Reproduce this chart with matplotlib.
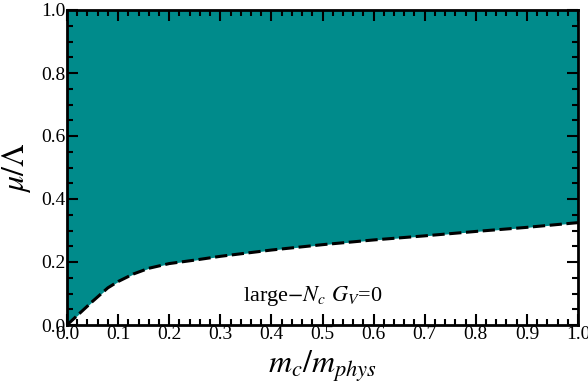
import numpy as np
import matplotlib.pyplot as plt
from matplotlib.ticker import MultipleLocator

# boundary of the shaded region
mc_ratio = [0.0, 0.02, 0.05, 0.08, 0.10, 0.13, 0.16, 0.20, 0.25, 0.30, 0.40, 0.50,
            0.60, 0.70, 0.80, 0.90, 1.00]
mu_crit = [0.0, 0.03, 0.075, 0.118, 0.138, 0.162, 0.180, 0.195, 0.206, 0.218, 0.238, 0.255,
           0.270, 0.283, 0.297, 0.310, 0.325]

plt.rcParams['font.family'] = ['Liberation Serif', 'DejaVu Serif']
plt.rcParams['mathtext.fontset'] = 'stix'

fig = plt.figure(figsize=(5.88, 3.87), dpi=100)
ax = fig.add_axes([67/588, 1 - 325/387, 511/588, 315/387])

ax.fill_between(mc_ratio, mu_crit, 1.0, color='#008b8b', linewidth=0)
ax.plot(mc_ratio, mu_crit, color='black', linestyle='--', linewidth=2.2, dashes=(4, 1.5))

ax.set_xlim(0, 1)
ax.set_ylim(0, 1)
ax.xaxis.set_major_locator(MultipleLocator(0.1))
ax.xaxis.set_minor_locator(MultipleLocator(0.02))
ax.yaxis.set_major_locator(MultipleLocator(0.2))
ax.yaxis.set_minor_locator(MultipleLocator(0.05))
ax.tick_params(which='both', direction='in', top=True, right=True, labelsize=14, width=1.5, pad=1)
ax.tick_params(which='major', length=8)
ax.tick_params(which='minor', length=4)
ax.xaxis.set_major_formatter(plt.FormatStrFormatter('%.1f'))
ax.yaxis.set_major_formatter(plt.FormatStrFormatter('%.1f'))
for s in ax.spines.values():
    s.set_linewidth(2)

ax.set_xlabel(r'$m_c/m_{phys}$', fontsize=23, labelpad=4)
ax.set_ylabel(r'$\mu/\Lambda$', fontsize=23, labelpad=6)
ax.text(0.48, 0.092, r'large$-N_c$ $G_V$=0', fontsize=16, ha='center', va='center')

fig.savefig('out.png', dpi=100)
